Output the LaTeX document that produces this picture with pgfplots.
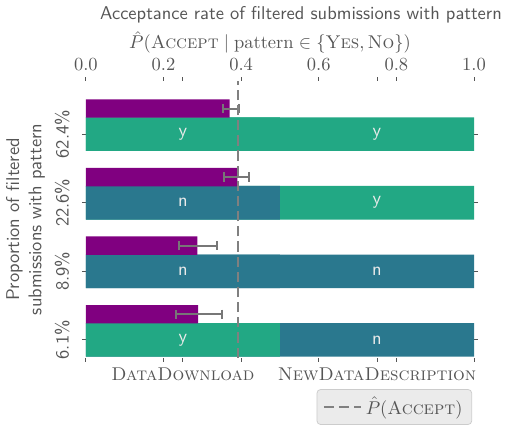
\documentclass[border=0pt]{standalone}
\usepackage{amsmath}
\usepackage{pgfplots}
\pgfplotsset{compat=1.18}
\definecolor{vgreen}{HTML}{22A884}
\definecolor{vteal}{HTML}{2A788E}
\definecolor{vpurple}{HTML}{800080}
\definecolor{txt}{HTML}{555555}
\definecolor{errc}{HTML}{777777}
\definecolor{dashc}{HTML}{808080}
\begin{document}
\begin{tikzpicture}
\begin{axis}[
  scale only axis, width=210pt, height=149.6pt,
  xmin=0, xmax=1, ymin=-0.26, ymax=3.773,
  axis line style={draw=none},
  xtick={0,0.2,0.4,0.6,0.8,1.0},
  xticklabel pos=upper,
  xticklabel style={/pgf/number format/.cd, fixed, fixed zerofill, precision=1},
  ytick={0,1,2,3},
  yticklabels={6.1\%,8.9\%,22.6\%,62.4\%},
  yticklabel style={rotate=90, font=\sffamily, anchor=south},
  yticklabel shift=3pt,
  tick align=outside, major tick length=2.2pt,
  tick style={draw=txt, line width=0.5pt},
  ticklabel style={text=txt},
  xlabel={{\sffamily Acceptance rate of filtered submissions with pattern}\\[4pt]$\hat{P}(\textsc{Accept} \mid \text{pattern} \in \{\textsc{Yes}, \textsc{No}\})$\hspace*{33.6pt}},
  xlabel style={text=txt, align=center, xshift=11.4pt, yshift=-4pt},
  ylabel={Proportion of filtered\\submissions with pattern},
  ylabel style={align=center, font=\sffamily, text=txt, yshift=-1.5pt},
  legend style={at={(0.995,0)}, anchor=north east, yshift=-17pt, fill=black!8, draw=black!20, rounded corners=2pt, text=txt},
  legend image code/.code={\draw[#1] (0pt,0pt) -- (20pt,0pt);},
  legend image post style={line width=1.4pt},
]
% right segments (full length underlay)
\addplot[forget plot, xbar, bar width=0.49, bar shift=0, fill=vteal, draw=none] coordinates {(1,0) (1,1)};
\addplot[forget plot, xbar, bar width=0.49, bar shift=0, fill=vgreen, draw=none] coordinates {(1,2) (1,3)};
% left segments
\addplot[forget plot, xbar, bar width=0.49, bar shift=0, fill=vgreen, draw=none] coordinates {(0.5,0) (0.5,3)};
\addplot[forget plot, xbar, bar width=0.49, bar shift=0, fill=vteal, draw=none] coordinates {(0.5,1) (0.5,2)};
% acceptance rate bars
\addplot[forget plot, xbar, bar width=0.268, bar shift=0, fill=vpurple, draw=none,
  error bars/.cd, x dir=both, x explicit,
  error bar style={draw=errc, line width=1.1pt},
  error mark options={rotate=90, draw=errc, line width=1.1pt, mark size=2.5pt}]
  coordinates {
  (0.289,0.374) += (0.061,0) -= (0.057,0)
  (0.287,1.374) += (0.050,0) -= (0.046,0)
  (0.390,2.374) += (0.030,0) -= (0.033,0)
  (0.370,3.374) += (0.025,0) -= (0.018,0)
  };
% labels in bars
\addplot[forget plot, only marks, mark=*, mark size=0pt, draw=none,
  nodes near coords, point meta=explicit symbolic,
  nodes near coords style={font=\sffamily, text=white!92!black, anchor=center}]
  coordinates {(0.25,0)[y] (0.75,0)[n] (0.25,1)[n] (0.75,1)[n] (0.25,2)[n] (0.75,2)[y] (0.25,3)[y] (0.75,3)[y]};
% overall acceptance
\addplot[dashc, line width=1.4pt, dash pattern=on 5.5pt off 2.7pt] coordinates {(0.392,-0.26) (0.392,3.773)};
\addlegendentry{$\hat{P}(\textsc{Accept})$}
\end{axis}
\begin{axis}[
  scale only axis, width=210pt, height=149.6pt,
  xmin=0, xmax=1, ymin=0, ymax=1,
  axis line style={draw=none},
  ytick=\empty,
  xtick={0.25,0.75},
  xticklabels={\textsc{DataDownload},\textsc{NewDataDescription}},
  xticklabel pos=lower,
  tick align=outside, major tick length=2.2pt,
  tick style={draw=txt, line width=0.5pt},
  ticklabel style={text=txt},
]
\addplot[draw=none] coordinates {(0,0)};
\end{axis}
\end{tikzpicture}
\end{document}
